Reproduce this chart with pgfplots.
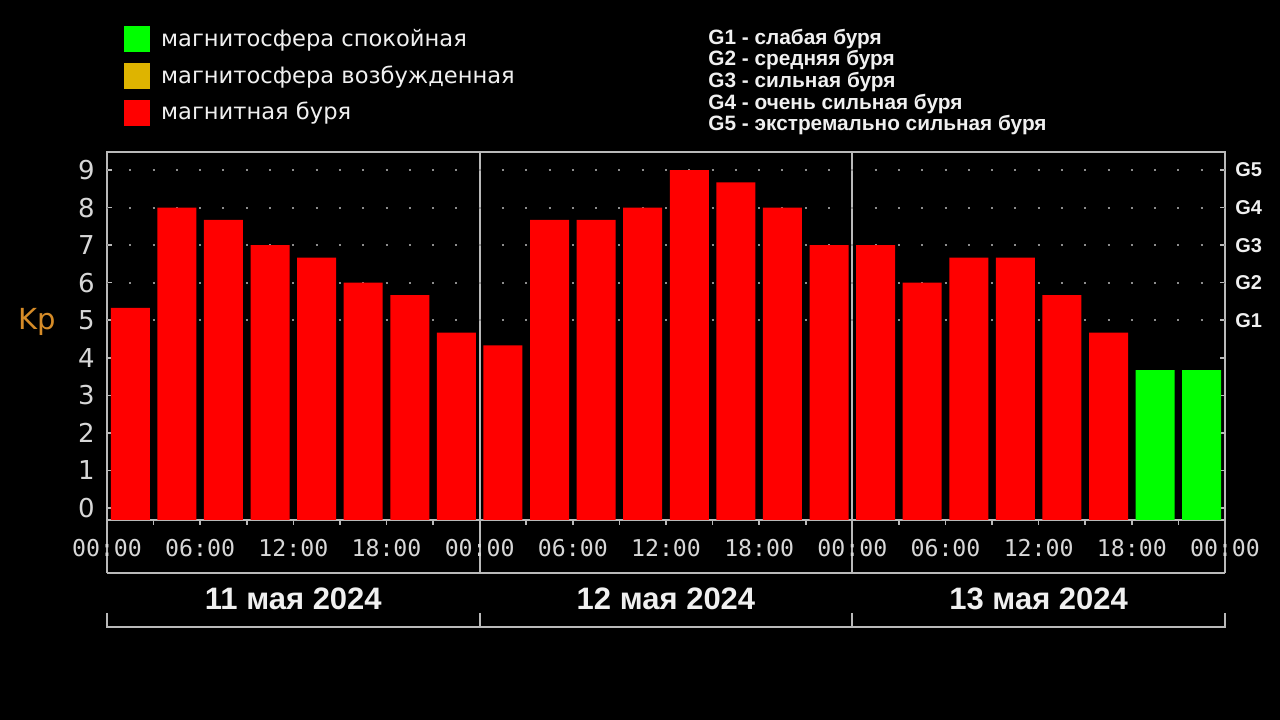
\documentclass[border=0pt]{standalone}
\usepackage{pgfplots}
\pgfplotsset{compat=1.18}
\usepackage{fontspec}
\setmainfont{DejaVu Sans}
\newfontfamily\monof{DejaVu Sans Mono}
\newfontfamily\arialf{Liberation Sans}
\definecolor{kpred}{RGB}{255,0,0}
\definecolor{kpgreen}{RGB}{0,255,0}
\definecolor{kpyellow}{RGB}{222,180,0}
\definecolor{kporange}{RGB}{214,140,40}
\definecolor{framegray}{RGB}{185,185,185}
\definecolor{labgray}{RGB}{215,215,215}
\definecolor{dotgray}{RGB}{140,140,140}
\definecolor{txtwhite}{RGB}{240,240,240}
\tikzset{gdots/.style={dotgray, line width=1bp, dash pattern=on 1bp off 10.646bp, dash phase=0.5bp}}
\begin{document}
\begin{tikzpicture}
\fill[black] (0bp,0bp) rectangle (640bp,360bp);
\useasboundingbox (0bp,0bp) rectangle (640bp,360bp);
% day separators and brackets
\begin{scope}[framegray, line width=0.9bp]
\draw (239.83bp,284bp) -- (239.83bp,73.5bp);
\draw (426.17bp,284bp) -- (426.17bp,73.5bp);
\draw (53.5bp,100bp) -- (53.5bp,73.5bp);
\draw (612.5bp,100bp) -- (612.5bp,73.5bp);
\draw (53.5bp,73.5bp) -- (612.5bp,73.5bp);
\draw (53.5bp,53.5bp) -- (53.5bp,46.5bp) -- (612.5bp,46.5bp) -- (612.5bp,53.5bp);
\draw (239.83bp,53.5bp) -- (239.83bp,46.5bp);
\draw (426.17bp,53.5bp) -- (426.17bp,46.5bp);
\end{scope}
\begin{scope}[every node/.style={text=txtwhite, font=\arialf\bfseries\fontsize{15.5bp}{18bp}\selectfont}]
\node at (146.67bp,60.5bp) {11 мая 2024};
\node at (333bp,60.5bp) {12 мая 2024};
\node at (519.33bp,60.5bp) {13 мая 2024};
\end{scope}
% storm level descriptions
\begin{scope}[every node/.style={anchor=west, inner sep=0pt, text=txtwhite, font=\arialf\bfseries\fontsize{10.4bp}{12bp}\selectfont}]
\node at (354bp,340.6bp) {G1 - слабая буря};
\node at (354bp,329.8bp) {G2 - средняя буря};
\node at (354bp,319.0bp) {G3 - сильная буря};
\node at (354bp,308.2bp) {G4 - очень сильная буря};
\node at (354bp,297.4bp) {G5 - экстремально сильная буря};
\end{scope}
\begin{axis}[
  at={(53.5bp,100bp)}, anchor=south west,
  scale only axis, width=559bp, height=184bp,
  xmin=0, xmax=72, ymin=0, ymax=9.8,
  y filter/.expression={y+0.32},
  axis line style={framegray, line width=1bp},
  xtick={0,6,...,72},
  xticklabels={00:00,06:00,12:00,18:00,00:00,06:00,12:00,18:00,00:00,06:00,12:00,18:00,00:00},
  minor xtick={3,9,...,69},
  xtick pos=bottom, xtick align=outside,
  ytick={0.32,1.32,2.32,3.32,4.32,5.32,6.32,7.32,8.32,9.32},
  yticklabels={0,1,2,3,4,5,6,7,8,9},
  ytick pos=both, ytick align=inside,
  major tick length=2.5bp, minor tick length=2.5bp,
  tick style={framegray, line width=0.8bp},
  /pgf/number format/assume math mode=true,
  xticklabel style={font=\monof\fontsize{11.6bp}{13bp}\selectfont, text=labgray, inner sep=0pt, yshift=-7bp},
  yticklabel style={font=\fontsize{13bp}{15bp}\selectfont, text=labgray, inner sep=0pt, xshift=-6bp},
  ylabel={Kp},
  every axis y label/.style={at={(axis description cs:-0.0394,0.538)}, anchor=east, text=kporange, font=\fontsize{14.5bp}{16bp}\selectfont},
  clip=false,
  legend cell align=left,
  legend image code/.code={\fill (0bp,-6.75bp) rectangle (13.5bp,6.75bp);},
  legend style={at={(axis description cs:0.0143,1.345)}, anchor=north west, draw=none, fill=none, inner sep=0pt, row sep=4.4bp, column sep=5bp, font=\fontsize{11.3bp}{13bp}\selectfont, nodes={text=txtwhite, inner sep=0pt}},
]
\addlegendimage{fill=kpgreen}
\addlegendentry{магнитосфера спокойная}
\addlegendimage{fill=kpyellow}
\addlegendentry{магнитосфера возбужденная}
\addlegendimage{fill=kpred}
\addlegendentry{магнитная буря}
% dotted grid at G levels
\draw[gdots] (rel axis cs:0,0.542857) -- (rel axis cs:1,0.542857);
\draw[gdots] (rel axis cs:0,0.644898) -- (rel axis cs:1,0.644898);
\draw[gdots] (rel axis cs:0,0.746939) -- (rel axis cs:1,0.746939);
\draw[gdots] (rel axis cs:0,0.848980) -- (rel axis cs:1,0.848980);
\draw[gdots] (rel axis cs:0,0.951020) -- (rel axis cs:1,0.951020);
\addplot[forget plot, ybar, bar width=19.5bp, bar shift=0pt, draw=none, fill=kpred] coordinates {
(1.5,5.33)(4.5,8)(7.5,7.67)(10.5,7)(13.5,6.67)(16.5,6)(19.5,5.67)(22.5,4.67)
(25.5,4.33)(28.5,7.67)(31.5,7.67)(34.5,8)(37.5,9)(40.5,8.67)(43.5,8)(46.5,7)
(49.5,7)(52.5,6)(55.5,6.67)(58.5,6.67)(61.5,5.67)(64.5,4.67)
};
\addplot[forget plot, ybar, bar width=19.5bp, bar shift=0pt, draw=none, fill=kpgreen] coordinates {
(67.5,3.67)(70.5,3.67)
};
\begin{scope}[every node/.style={anchor=west, inner sep=0pt, xshift=5bp, text=txtwhite, font=\arialf\bfseries\fontsize{10bp}{12bp}\selectfont}]
\node at (rel axis cs:1,0.542857) {G1};
\node at (rel axis cs:1,0.644898) {G2};
\node at (rel axis cs:1,0.746939) {G3};
\node at (rel axis cs:1,0.848980) {G4};
\node at (rel axis cs:1,0.951020) {G5};
\end{scope}
\end{axis}
\end{tikzpicture}
\end{document}
